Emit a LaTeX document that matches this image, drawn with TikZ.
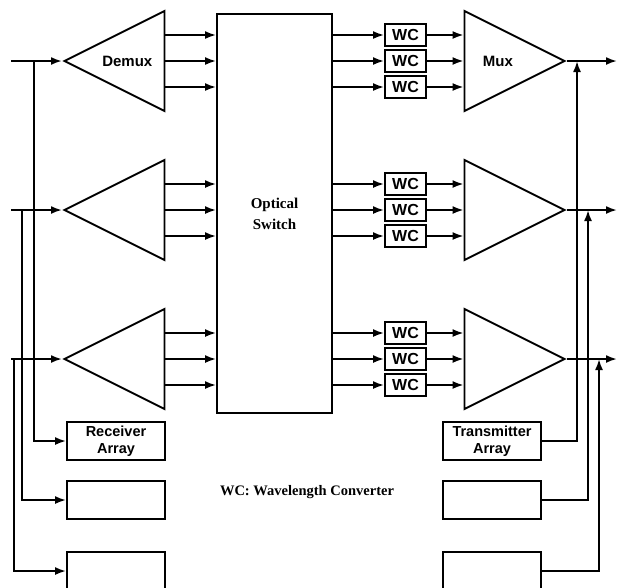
\documentclass[tikz,border=0pt]{standalone}
\usepackage{fontspec}
\setmainfont{Liberation Serif}
\setsansfont{Liberation Sans}
\usetikzlibrary{arrows.meta,shapes.geometric}

\begin{document}
\begin{tikzpicture}[x=1pt,y=-1pt,
  line width=1.9pt,
  sig/.style={-{Latex[length=11pt,width=8pt]}},
  arraybox/.style={draw,minimum width=98pt,minimum height=38pt,inner sep=1pt,align=center,
    font=\sffamily\bfseries\fontsize{14.5}{17}\selectfont},
  wc/.style={draw,minimum width=41pt,minimum height=22pt,inner sep=0pt,
    font=\sffamily\bfseries\fontsize{16}{16}\selectfont},
  tri/.style={draw,isosceles triangle,isosceles triangle stretches,
    minimum width=100pt,minimum height=100pt,inner sep=0pt,
    font=\sffamily\bfseries\fontsize{15}{15}\selectfont},
  demux/.style={tri,shape border rotate=180,anchor=apex},
  mux/.style={tri,anchor=apex}
]
  \clip (0,0) rectangle (617,587);

  \node[draw,minimum width=115pt,minimum height=399pt,align=center,
    font=\bfseries\fontsize{15}{21}\selectfont] (sw) at (274.5,213.5) {Optical\\Switch};

  \foreach \r/\yy/\tx/\jx/\by/\dlab/\mlab/\rlab/\tlab in
    {1/61/34/577/441/Demux/Mux/{Receiver\\Array}/{Transmitter\\Array},
     2/210/22/588/500////,
     3/359/14/599/571////}
  {
    \node[demux] (dmx\r) at (62,\yy) {\dlab};
    \node[mux] (mux\r) at (567,\yy) {\mlab};
    \coordinate (in\r) at (11,\yy);
    \coordinate (tap\r) at (\tx,\yy);
    \coordinate (join\r) at (\jx,\yy);
    \coordinate (out\r) at (617,\yy);
    \draw[sig] (in\r) -- (dmx\r.apex);
    \draw[sig] (mux\r.apex) -- (out\r);
    \foreach \k/\dy in {a/-26,b/0,c/26}
    {
      \node[wc] (wc\r\k) at (405.5,\yy+\dy) {WC};
      \draw[sig] (dmx\r.east |- wc\r\k) -- (sw.west |- wc\r\k);
      \draw[sig] (sw.east |- wc\r\k) -- (wc\r\k);
      \draw[sig] (wc\r\k) -- (wc\r\k -| mux\r.west);
    }
    \node[arraybox] (rx\r) at (116,\by) {\rlab};
    \node[arraybox] (tx\r) at (492,\by) {\tlab};
    \draw[sig] (tap\r) |- (rx\r.west);
    \draw[sig] (tx\r.east) -| (join\r);
  }

  \node[font=\bfseries\fontsize{14.5}{14.5}\selectfont] (key) at (307,492) {WC: Wavelength Converter};
\end{tikzpicture}
\end{document}
